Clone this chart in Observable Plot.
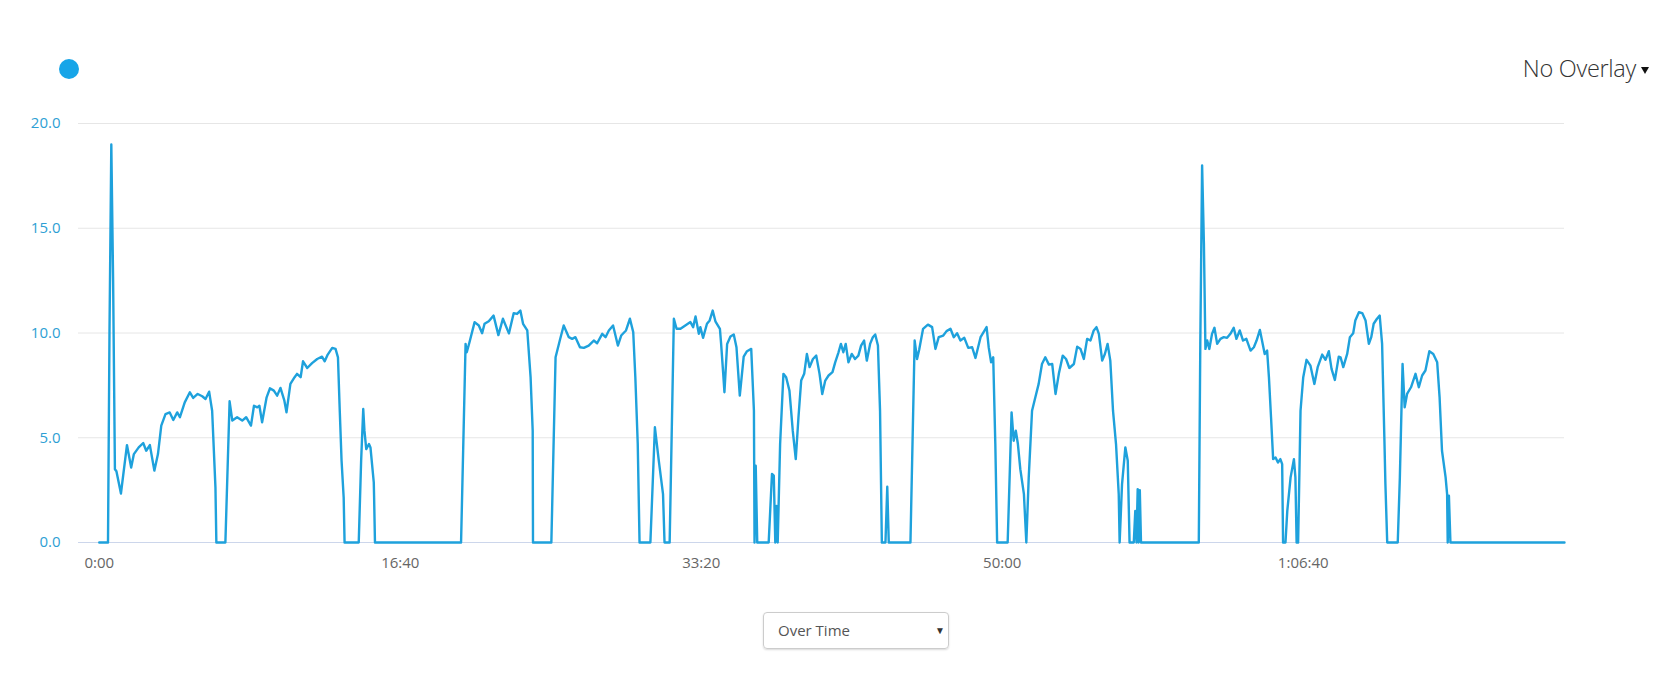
<!DOCTYPE html>
<html><head><meta charset="utf-8">
<script src="https://cdn.jsdelivr.net/npm/d3@7"></script>
<script src="https://cdn.jsdelivr.net/npm/@observablehq/plot@0.6"></script>
<style>
body{margin:0;background:#fff;font-family:"Open Sans",sans-serif;}
#root{position:relative;width:1679px;height:687px;overflow:hidden;background:#fff;}
#dot{position:absolute;left:59px;top:59px;width:20px;height:20px;border-radius:50%;background:#17a5e8;}
#overlay{position:absolute;right:43px;top:50px;font-size:23.5px;font-weight:300;color:#333;letter-spacing:-0.3px;line-height:36px;white-space:nowrap;}
#caret{position:absolute;left:1641px;top:67px;width:0;height:0;border-left:4px solid transparent;border-right:4px solid transparent;border-top:7px solid #111;}
#chart{position:absolute;left:0;top:100px;}
#select{position:absolute;left:763px;top:612px;width:184px;height:35px;border:1px solid #ccc;border-radius:4px;box-shadow:0 1px 2px rgba(0,0,0,0.15);font-size:15px;color:#555;line-height:35px;box-sizing:content-box;}
#select .lbl{position:absolute;left:14px;top:0;}
#select .arr{position:absolute;left:171px;top:0;font-size:10px;color:#333;}
</style></head><body>
<div id="root">
  <div id="dot"></div>
  <div id="overlay">No Overlay</div>
  <div id="caret"></div>
  <div id="chart"></div>
  <div id="select"><span class="lbl">Over Time</span><span class="arr">▼</span></div>
</div>
<script>
const seconds = [0,29,34,40,46,52,57,72,92,106,115,131,146,156,168,183,195,206,220,234,246,259,268,284,301,312,327,342,353,365,375,386,389,
419,433,442,458,475,488,504,514,525,532,541,556,567,580,591,602,615,622,635,649,657,669,677,691,707,724,740,749,759,774,785,793,799,805,812,815,
862,870,877,881,887,896,901,912,913,916,
1202,1217,1221,1230,1247,1261,1272,1280,1294,1310,1326,1341,1361,1377,1388,1399,1408,1422,1433,1440,1441,
1502,1516,1530,1543,1560,1571,1582,1597,1610,1626,1643,1654,1671,1682,1693,1707,1723,1734,1750,1763,1774,1781,1789,1795,
1831,1846,1859,1873,1878,
1895,1909,1918,1931,1947,1964,1973,1981,1992,1997,2006,2019,2028,2038,2047,2062,2066,2073,2077,2086,2097,2108,2117,2128,2132,2141,2152,2166,2175,2177,2181,2186,
2224,2235,2241,2246,2250,2254,2262,2273,2282,2293,2304,2314,2323,2332,2342,2351,2360,2371,2382,2393,2402,2412,2423,2436,2445,2456,2464,2472,2480,2489,2500,2511,2522,2531,2541,2550,2561,2570,2578,2587,2594,2600,2612,2618,2623,
2695,2709,2717,2724,2737,2753,2767,2778,2789,2804,2815,2828,2839,2850,2861,2874,2887,2900,2911,2928,2936,2948,2955,2963,2970,2977,2983,
3018,3031,3038,3045,3052,3060,3072,3080,3088,3099,3110,3121,3132,3143,3155,3166,3177,3188,3201,3212,3223,3238,3249,3260,3271,3282,3293,3304,3313,3321,3332,3341,3350,3359,3368,3378,3387,3390,3398,3409,3417,3423,
3437,3442,3446,3450,3453,3457,3461,
3653,3658,3664,3670,3675,3681,3688,3697,3705,3714,3725,3736,3747,3758,3769,3778,3789,3800,3811,3825,3836,3845,3856,3863,3872,3880,3886,3893,3900,3908,3916,3924,3930,3933,
3941,3947,3958,3969,3974,3978,3983,3991,4000,4011,4024,4037,4048,4063,4074,4085,4094,4105,4118,4124,4133,4146,4155,4166,4173,4185,4196,4207,4218,4226,4234,4245,4254,4262,4270,4273,4279,
4314,4321,4330,4337,4345,4358,4373,4384,4395,4406,4419,4432,4445,4453,4461,4473,4478,4480,4484,4489,4868];
const speed = [0,0,10.1,19.0,12.5,3.5,3.4,2.34,4.65,3.58,4.22,4.54,4.75,4.38,4.65,3.43,4.22,5.58,6.13,6.21,5.85,6.21,5.98,6.69,7.17,6.9,7.09,6.98,6.85,7.2,6.29,2.63,0,
0,6.74,5.82,5.98,5.82,5.98,5.58,6.53,6.45,6.53,5.74,6.93,7.36,7.25,7.01,7.38,6.77,6.21,7.57,7.89,8.05,7.89,8.65,8.33,8.56,8.76,8.87,8.65,8.97,9.29,9.24,8.84,6.29,3.9,2.15,0,
0,3.9,6.37,5.34,4.46,4.7,4.54,2.87,2.23,0,
0,9.48,9.08,9.56,10.52,10.36,9.99,10.44,10.56,10.83,9.9,10.68,9.98,10.95,10.91,11.07,10.44,10.12,7.89,5.34,0,
0,8.84,9.64,10.36,9.8,9.72,9.8,9.32,9.29,9.4,9.64,9.51,9.96,9.8,10.12,10.36,9.4,9.88,10.12,10.68,10.04,7.89,4.7,0,
0,5.5,3.9,2.31,0,
0,10.68,10.2,10.2,10.36,10.52,10.28,10.79,9.96,10.28,9.77,10.44,10.6,11.07,10.56,10.2,9.48,8.05,7.17,9.48,9.83,9.93,9.32,7.01,7.57,8.87,9.13,9.24,6.29,0,3.66,0,
0,3.27,3.19,0,1.75,0,4.7,8.05,7.89,7.25,5.34,3.98,5.98,7.73,8.05,9.0,8.37,8.76,8.92,8.05,7.09,7.73,7.97,8.13,8.6,9.08,9.48,9.08,9.48,8.6,9.0,8.76,8.92,9.4,9.64,8.68,9.48,9.8,9.93,9.4,6.29,0,0,2.66,0,
0,9.64,8.76,9.2,10.2,10.4,10.28,9.24,9.8,9.88,10.09,10.2,9.8,9.99,9.64,9.77,9.29,9.32,8.81,9.8,9.99,10.28,9.32,8.6,8.84,4.7,0,
0,6.21,4.86,5.34,4.7,3.5,2.31,0,3.11,6.29,6.93,7.57,8.52,8.84,8.49,8.52,7.09,8.05,8.92,8.76,8.33,8.52,9.35,9.24,8.76,9.72,9.64,10.12,10.28,9.96,8.68,9.0,9.48,8.68,6.29,4.7,2.31,0,2.79,4.54,3.9,0,
0,1.51,0,2.55,0,2.5,0,
0,9.48,18.0,14.26,9.24,9.64,9.24,9.96,10.25,9.48,9.72,9.8,9.77,9.96,10.25,9.72,10.12,9.64,9.72,9.16,9.32,9.64,10.15,9.64,9.0,9.16,7.89,5.98,3.98,4.06,3.82,3.98,3.74,0,
0,1.51,3.11,3.98,3.11,0,0,6.29,7.89,8.72,8.44,7.57,8.37,8.97,8.72,9.13,8.29,7.76,8.87,8.84,8.37,9.0,9.8,9.99,10.6,10.99,10.95,10.6,9.48,9.8,10.44,10.68,10.83,9.48,4.7,2.79,0,
0,3.11,8.52,6.45,7.09,7.41,8.05,7.41,7.97,8.21,9.13,9.0,8.6,6.93,4.38,3.11,2.31,0,2.23,0,0];
const yTicks = [0, 5, 10, 15, 20];
const xTicks = [0, 1000, 2000, 3000, 4000];

const data = seconds.map((t, i) => ({t, v: speed[i]}));
function fmt(s) {
  const h = Math.floor(s / 3600), m = Math.floor((s % 3600) / 60), sec = s % 60;
  const p = n => String(n).padStart(2, "0");
  return h ? `${h}:${p(m)}:${p(sec)}` : `${m}:${p(sec)}`;
}
const chart = Plot.plot({
  width: 1679, height: 480,
  marginLeft: 78, marginRight: 115, marginTop: 23, marginBottom: 38,
  x: {domain: [-69, 4868]},
  y: {domain: [0, 20]},
  style: {fontFamily: "'Open Sans', sans-serif", fontSize: "15px", background: "transparent", overflow: "visible"},
  marks: [
    Plot.ruleY(yTicks.filter(d => d > 0), {stroke: "#e6e6e6", strokeWidth: 1}),
    Plot.ruleY([0], {stroke: "#ccd6eb", strokeWidth: 1}),
    Plot.axisX({ticks: xTicks, tickFormat: fmt, tickSize: 0, tickPadding: 15, color: "#666", label: null}),
    Plot.axisY({ticks: yTicks, tickFormat: d => d.toFixed(1), tickSize: 0, tickPadding: 18, color: "#2e9fd4", label: null}),
    Plot.line(data, {x: "t", y: "v", stroke: "#1ea1dc", strokeWidth: 2.4, strokeLinejoin: "round"})
  ]
});
document.getElementById("chart").appendChild(chart);
</script>
</body></html>
